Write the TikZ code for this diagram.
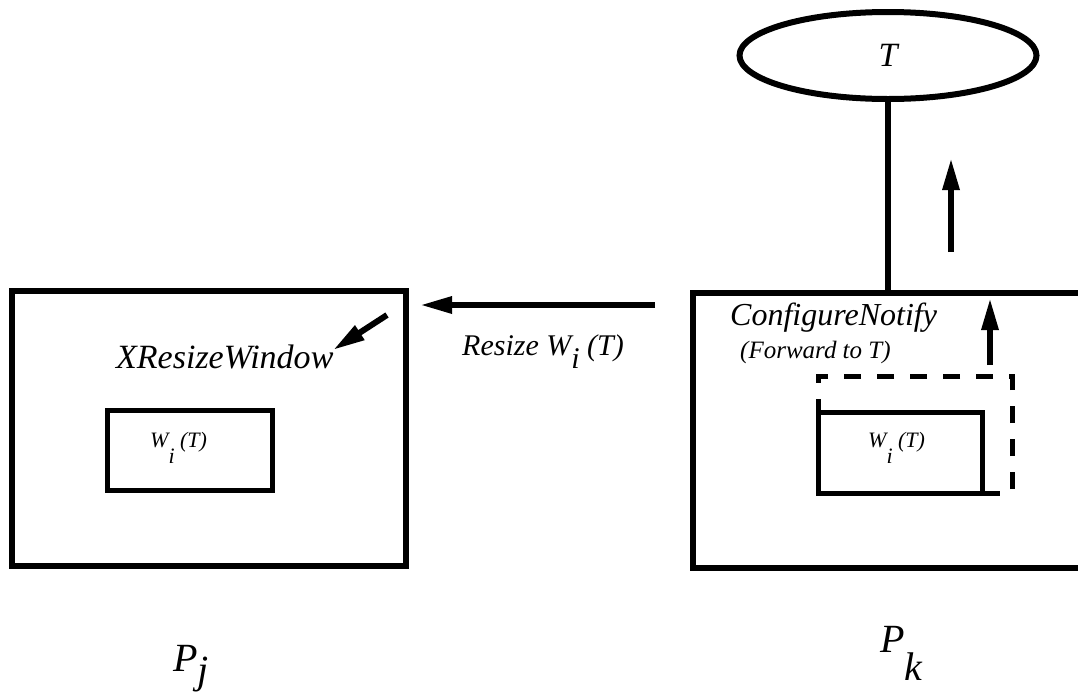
\documentclass[tikz,border=0pt]{standalone}
\usepackage{fontspec}
\setmainfont{Liberation Serif}
\usetikzlibrary{arrows.meta,shapes.geometric}
\newcommand{\fsz}[1]{\fontsize{#1}{#1}\selectfont}
\tikzset{
  win/.style={draw,line width=6pt,inner sep=0pt},
  subwin/.style={draw,line width=5pt,inner sep=0pt},
  lbl/.style={inner sep=0pt,anchor=base west},
  fat/.style={line width=6pt,-{Triangle[length=32pt,width=16pt]}}
}
\begin{document}
\begin{tikzpicture}[x=1pt,y=-1pt]
\useasboundingbox (0,0) rectangle (1078,694);
\clip (0,0) rectangle (1078,694);
% the two processes
\node[win,minimum width=394pt,minimum height=275pt] (pj) at (209,428.5) {};
\node[win,minimum width=390pt,minimum height=275pt] (pk) at (888,430.5) {};
\node[subwin,minimum width=165pt,minimum height=80pt] (wj) at (189.5,450) {};
\node[subwin,dash pattern=on 17pt off 16pt,minimum width=194pt,minimum height=117pt] (wknew) at (915,434.5) {};
\node[subwin,minimum width=164pt,minimum height=81pt] (wk) at (900,452.5) {};
\node[draw,ellipse,line width=6pt,inner sep=0pt,minimum width=297pt,minimum height=87pt,font=\itshape\fsz{34}] (T) at (888,55.5) {T};
\draw[line width=5.5pt] (T) -- (pk);
% arrows
\coordinate (upA) at (951,252);
\coordinate (upB) at (951,158);
\coordinate (cnA) at (990,365);
\coordinate (cnB) at (990,298);
\coordinate (rsA) at (655,305);
\coordinate (rsB) at (420,305);
\coordinate (xrA) at (387,315);
\coordinate (xrB) at (333,350);
\draw[fat] (upA) -- (upB);
\draw[fat] (cnA) -- (cnB);
\draw[fat] (rsA) -- (rsB);
\draw[fat] (xrA) -- (xrB);
% labels
\node[lbl,font=\itshape\fsz{34}] (xrw) at (116,368) {XResizeWindow};
\node[lbl,font=\itshape\fsz{30}] (rsz) at (462,355) {Resize W\raisebox{-13pt}{i} (T)};
\node[lbl,font=\itshape\fsz{32}] (cfg) at (730,325) {ConfigureNotify};
\node[lbl,font=\itshape\fsz{25}] (fwd) at (740,358) {(Forward to T)};
\node[lbl,font=\itshape\fsz{22}] (wjl) at (150,447) {W\raisebox{-16pt}{i} (T)};
\node[lbl,font=\itshape\fsz{22}] (wkl) at (868,447) {W\raisebox{-16pt}{i} (T)};
\node[lbl,font=\itshape\fsz{40}] (pjl) at (173,671) {P\raisebox{-12pt}{j}};
\node[lbl,font=\itshape\fsz{40}] (pkl) at (880,652) {P\raisebox{-28pt}{k}};
\end{tikzpicture}
\end{document}
